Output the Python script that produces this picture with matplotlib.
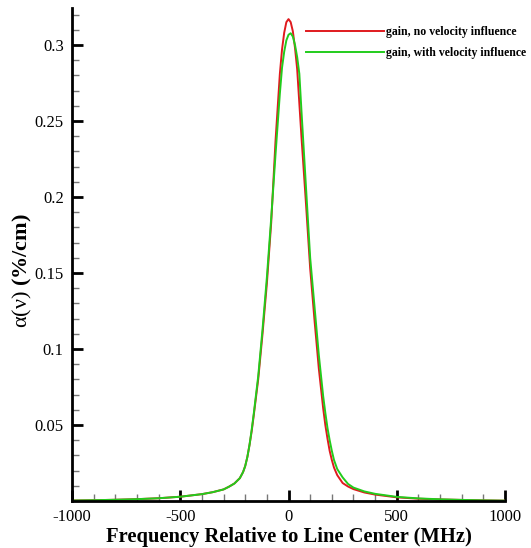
import matplotlib
matplotlib.use("Agg")
import matplotlib.pyplot as plt
from matplotlib.ticker import MultipleLocator, FormatStrFormatter

# frequency offsets (MHz) and gain values (%/cm)
freq_red = [-1000, -900, -800, -700, -600, -500, -400, -350, -300, -275, -250, -225, -210, -200,
            -190, -180, -170, -160, -140, -120, -100, -80, -60, -40, -30, -20, -10, 0,
            10, 20, 30, 40, 60, 80, 100, 120, 140, 160, 170, 180, 190, 200, 210, 225, 250,
            275, 300, 350, 400, 500, 600, 700, 800, 900, 1000]
gain_red = [0.0003, 0.0005, 0.0008, 0.0012, 0.0018, 0.0028, 0.0045, 0.0058, 0.0076, 0.0094, 0.0115, 0.0150, 0.019, 0.023,
            0.029, 0.037, 0.046, 0.057, 0.080, 0.110, 0.143, 0.183, 0.237, 0.281, 0.297, 0.308, 0.315, 0.317,
            0.315, 0.309, 0.298, 0.284, 0.239, 0.197, 0.153, 0.119, 0.087, 0.061, 0.050, 0.041, 0.033, 0.027, 0.022, 0.017, 0.0118,
            0.0095, 0.0078, 0.0056, 0.0042, 0.0024, 0.0015, 0.0010, 0.0007, 0.0004, 0.0002]

freq_green = [-1000, -900, -800, -700, -600, -500, -400, -350, -300, -275, -250, -225, -210, -200,
              -190, -180, -170, -160, -140, -120, -100, -80, -60, -40, -30, -20, -10, 0,
              10, 20, 30, 40, 50, 60, 80, 100, 120, 140, 160, 170, 180, 190, 200, 210, 225, 250,
              275, 300, 350, 400, 500, 600, 700, 800, 900, 1000]
gain_green = [0.0003, 0.0005, 0.0008, 0.0012, 0.0018, 0.0028, 0.0045, 0.0058, 0.0076, 0.0094, 0.0115, 0.0150, 0.019, 0.023,
              0.029, 0.037, 0.047, 0.058, 0.082, 0.113, 0.147, 0.186, 0.228, 0.268, 0.285, 0.2955, 0.303, 0.3067,
              0.3077, 0.3055, 0.300, 0.292, 0.281, 0.256, 0.208, 0.160, 0.128, 0.096, 0.069, 0.058, 0.048, 0.040, 0.033, 0.027, 0.021, 0.0155,
              0.0112, 0.0088, 0.0063, 0.0047, 0.0027, 0.0017, 0.0011, 0.0007, 0.0004, 0.0002]

plt.rcParams['font.family'] = ['Liberation Serif', 'DejaVu Serif']
plt.rcParams['axes.unicode_minus'] = False
plt.rcParams['mathtext.fontset'] = 'custom'
plt.rcParams['mathtext.rm'] = 'Liberation Serif'

fig = plt.figure(figsize=(5.31, 5.48), dpi=100)
ax = fig.add_axes([0.1356, 0.0858, 0.8155, 0.8996])

ax.plot(freq_red, gain_red, color='#e01a1e', lw=1.4, label='gain, no velocity influence')
ax.plot(freq_green, gain_green, color='#22cc1c', lw=1.4, label='gain, with velocity influence')

ax.set_xlim(-1000, 1000)
ax.set_ylim(0, 0.3243)
ax.set_xticks([-1000, -500, 0, 500, 1000])
ax.set_yticks([0.05, 0.1, 0.15, 0.2, 0.25, 0.3])
ax.xaxis.set_minor_locator(MultipleLocator(100))
ax.yaxis.set_minor_locator(MultipleLocator(0.01))
ax.yaxis.set_major_formatter(FormatStrFormatter('%g'))

for s in ['top', 'right']:
    ax.spines[s].set_visible(False)
for s in ['left', 'bottom']:
    ax.spines[s].set_linewidth(2)

ax.tick_params(which='major', direction='in', length=8, width=2, labelsize=12, pad=6)
ax.tick_params(which='minor', direction='in', length=5, width=1, color='#777777')

ax.set_xlabel('Frequency Relative to Line Center (MHz)', fontsize=14.8, fontweight='bold')
ax.xaxis.set_label_coords(0.5, -0.052)
ax.set_ylabel(r'$\mathrm{\alpha(\nu)}$ (%/cm)', fontsize=16, fontweight='bold')
ax.yaxis.set_label_coords(-0.088, 0.467)

ax.legend(loc='upper left', bbox_to_anchor=(0.53, 0.973), frameon=False,
          prop={'size': 8.5, 'weight': 'bold'}, handlelength=6.6, handletextpad=0.15,
          labelspacing=0.75, borderaxespad=0)

fig.savefig('out.png', dpi=100)
